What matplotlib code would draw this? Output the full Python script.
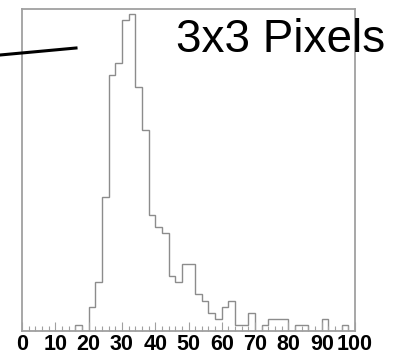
import numpy as np
import matplotlib
matplotlib.use("Agg")
import matplotlib.pyplot as plt
from matplotlib.lines import Line2D

# ----------------------------------------------------
# Histogram contents (2-unit bins from 0 to 100)
# ----------------------------------------------------
bin_edges = np.arange(0, 102, 2)

counts = [
    0, 0, 0, 0, 0, 0, 0, 0, 1, 0,      # 0 - 20
    4, 8, 22, 42, 44, 51, 52, 40, 33, 19,   # 20 - 40
    17, 16, 9, 8, 11, 11, 6, 5, 3, 2,  # 40 - 60
    4, 5, 1, 1, 3, 0, 1, 2, 2, 2,      # 60 - 80
    0, 1, 1, 0, 0, 2, 0, 0, 1, 0,      # 80 - 100
]

tick_values = list(range(0, 101, 10))
tick_labels = [str(v) for v in tick_values]

title_text = "3x3 Pixels"

# ----------------------------------------------------
# Figure / axes layout
# ----------------------------------------------------
W, H = 404, 354
fig = plt.figure(figsize=(W / 100, H / 100), dpi=100)
ax = fig.add_axes([22 / W, 1 - 331 / H, (355 - 22) / W, (331 - 8.5) / H])

frame_grey = "#a0a0a0"
hist_grey = "#8c8c8c"

ax.stairs(counts, bin_edges, color=hist_grey, linewidth=1.0, baseline=0)

ax.set_xlim(0, 100)
ax.set_ylim(0, 52.9)

for side in ax.spines.values():
    side.set_color(frame_grey)
    side.set_linewidth(1.3)

# ROOT-like ticks: inward on the x axis only
ax.set_xticks(tick_values)
ax.set_xticklabels(tick_labels, fontfamily="Liberation Sans",
                   fontweight="bold", fontsize=15.5)
ax.set_xticks(np.arange(0, 101, 2), minor=True)
ax.tick_params(axis="x", which="major", direction="in", length=6.5,
               width=0.8, color=frame_grey, pad=2)
ax.tick_params(axis="x", which="minor", direction="in", length=3.6,
               width=0.8, color=frame_grey)
ax.set_yticks([])

# ----------------------------------------------------
# Label and pointer line
# ----------------------------------------------------
fig.text(176 / W, 1 - 52 / H, title_text, fontfamily="Liberation Sans",
         fontsize=33, color="black", ha="left", va="baseline")

fig.add_artist(Line2D([0, 76 / W], [1 - 55 / H, 1 - 48 / H],
                      color="black", linewidth=2.2,
                      transform=fig.transFigure))

fig.savefig("out.png", dpi=100)
